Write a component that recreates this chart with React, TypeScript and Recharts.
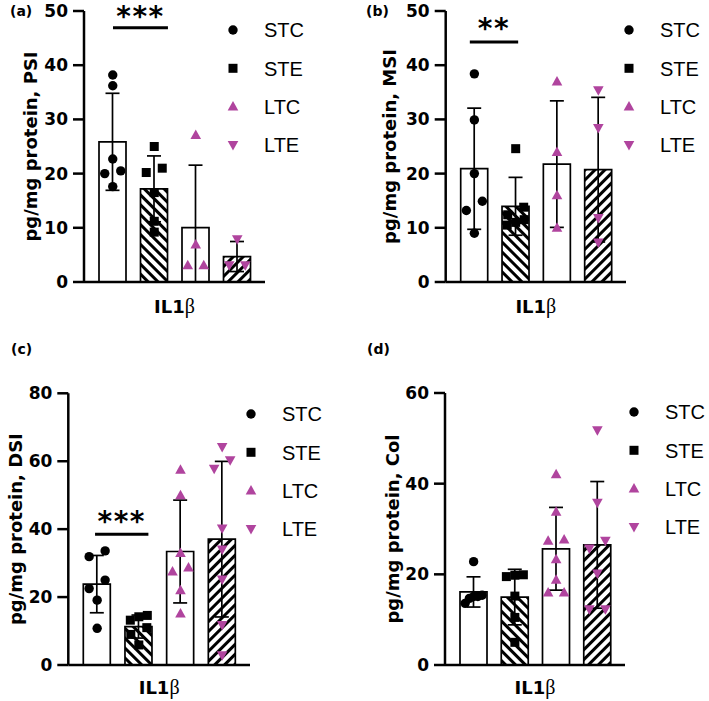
import React from "react";
import {
  ComposedChart, Bar, Cell, ErrorBar, Scatter, XAxis, YAxis, ReferenceLine, Legend,
} from "recharts";

const groups = ["STC", "STE", "LTC", "LTE"];

const ticksPsi = [0, 10, 20, 30, 40, 50];
const ticksMsi = [0, 10, 20, 30, 40, 50];
const ticksDsi = [0, 20, 40, 60, 80];
const ticksCol = [0, 20, 40, 60];

// (a) PSI
const psiSTC = [38.2, 36.2, 22.7, 20.5, 20.0, 17.6];
const psiSTE = [25.0, 21.0, 20.2, 16.5, 11.2, 9.2];
const psiLTC = [27.1, 6.9, 3.1, 3.1];
const psiLTE = [7.9, 3.1, 3.1];

// (b) MSI
const msiSTC = [38.4, 29.9, 20.0, 14.9, 13.2, 9.0];
const msiSTE = [24.6, 13.8, 12.4, 11.5, 11.0, 10.5];
const msiLTC = [37.0, 24.0, 16.0, 10.0];
const msiLTE = [35.4, 28.4, 11.8, 7.3];

// (c) DSI
const dsiSTC = [33.6, 31.9, 25.0, 22.5, 19.1, 10.8];
const dsiSTE = [14.6, 14.2, 13.2, 11.0, 9.0, 5.9];
const dsiLTC = [57.5, 50.0, 33.0, 28.7, 27.5, 22.0, 15.2];
const dsiLTE = [64.2, 60.3, 57.8, 40.2, 34.0, 25.2, 11.8, 2.9];

// (d) Col
const colSTC = [22.8, 15.4, 15.1, 15.1, 14.7, 13.6];
const colSTE = [19.9, 19.8, 19.5, 15.2, 10.5, 5.0];
const colLTC = [42.1, 33.8, 27.7, 27.4, 23.3, 18.8, 16.0, 16.0];
const colLTE = [51.8, 35.8, 27.4, 25.7, 20.2, 12.3, 12.3];

// significance brackets (group positions on the x scale, y value, stars)
const sigA = { from: 0.506, to: 1.83, y: 46.9, stars: "***" };
const sigB = { from: 0.39, to: 1.56, y: 44.3, stars: "**" };
const sigC = { from: 0.45, to: 1.73, y: 38.5, stars: "***" };

const INK = "#000";
const MAGENTA = "#B0449E";
const BOLD = "'DejaVu Sans', sans-serif";
const PLAIN = "'Liberation Sans', Arial, sans-serif";
const PAD_L = 8;
const PAD_R = 7;

const mean = (v: number[]) => v.reduce((s, x) => s + x, 0) / v.length;
const sd = (v: number[]) => {
  const m = mean(v);
  return Math.sqrt(v.reduce((s, x) => s + (x - m) ** 2, 0) / (v.length - 1));
};

// spread points that would overlap side by side (like Prism does)
function spread(values: number[], pxPerUnit: number) {
  const idx = values.map((_, i) => i).sort((a, b) => values[a] - values[b]);
  const off = values.map(() => 0);
  let i = 0;
  while (i < idx.length) {
    let j = i + 1;
    while (j < idx.length && (values[idx[j]] - values[idx[i]]) * pxPerUnit < 9.5) j++;
    const n = j - i;
    if (n > 1) {
      const step = Math.min(16, 17 / (n - 1));
      for (let k = 0; k < n; k++) off[idx[i + k]] = (k - (n - 1) / 2) * step;
    }
    i = j;
  }
  return off;
}

function marker(i: number, cx: number, cy: number) {
  if (i === 0) return <circle cx={cx} cy={cy} r={4.7} fill={INK} />;
  if (i === 1) return <rect x={cx - 4.5} y={cy - 4.5} width={9} height={9} fill={INK} />;
  if (i === 2)
    return <polygon points={`${cx},${cy - 5.5} ${cx - 5.3},${cy + 4} ${cx + 5.3},${cy + 4}`} fill={MAGENTA} />;
  return <polygon points={`${cx - 5.3},${cy - 4} ${cx + 5.3},${cy - 4} ${cx},${cy + 5.5}`} fill={MAGENTA} />;
}

function LegendBox() {
  return (
    <svg width={95} height={150}>
      {groups.map((g, i) => (
        <g key={g} transform={`translate(10, ${15 + i * 38.3})`}>
          {marker(i, 0, 0)}
          <text x={31} y={0} dy="0.36em" fontFamily={PLAIN} fontSize={20} fill={INK}>{g}</text>
        </g>
      ))}
    </svg>
  );
}

type Sig = { from: number; to: number; y: number; stars: string };

type PanelProps = {
  id: string;
  letter: string;
  ylabel: string;
  left: number;
  top: number;
  width: number;
  height: number;
  axisX: number;
  plotTop: number;
  plotBottom: number;
  plotRight: number;
  yMax: number;
  ticks: number[];
  series: number[][];
  sig?: Sig;
  starLift?: number;
  legendX: number;
  legendY: number;
  yLabelDx: number;
  xLabelDy: number;
  letterX: number;
  letterY: number;
};

function Panel(p: PanelProps) {
  const bandPx = (p.plotRight - p.axisX - PAD_L - PAD_R) / 4;
  const pxPerUnit = (p.plotBottom - p.plotTop) / p.yMax;
  const bars = groups.map((g, i) => {
    const m = mean(p.series[i]);
    const s = sd(p.series[i]);
    return { group: g, y: m, err: [Math.min(s, m), s] };
  });
  const points = p.series.map((vals, i) => {
    const off = spread(vals, pxPerUnit);
    return vals.map((v, k) => ({ x: i + 0.5 + off[k] / bandPx, y: v }));
  });
  const fills = ["#fff", `url(#back-${p.id})`, "#fff", `url(#fwd-${p.id})`];

  const xLabel = () => (
    <text
      x={(p.axisX + p.plotRight) / 2}
      y={p.plotBottom + p.xLabelDy}
      textAnchor="middle"
      dominantBaseline="central"
      fill={INK}
    >
      <tspan fontFamily={BOLD} fontWeight={700} fontSize={18}>IL1</tspan>
      <tspan fontFamily="'Liberation Serif', serif" fontSize={20}>β</tspan>
    </text>
  );

  const yLabel = () => (
    <text
      transform={`translate(${p.axisX - p.yLabelDx}, ${(p.plotTop + p.plotBottom) / 2}) rotate(-90)`}
      textAnchor="middle"
      dominantBaseline="central"
      fontFamily={BOLD}
      fontWeight={700}
      fontSize={18}
      fill={INK}
    >
      {p.ylabel}
    </text>
  );

  const sigLabel = () =>
    p.sig ? (
      <text
        x={p.axisX + PAD_L + ((p.sig.from + p.sig.to) / 2) * bandPx}
        y={p.plotBottom - p.sig.y * pxPerUnit - (p.starLift ?? 2.5)}
        textAnchor="middle"
        fontFamily={BOLD}
        fontWeight={700}
        fontSize={28}
        letterSpacing={1.5}
        fill={INK}
      >
        {p.sig.stars}
      </text>
    ) : null;

  return (
    <div style={{ position: "absolute", left: p.left, top: p.top, width: p.width, height: p.height }}>
      <ComposedChart
        width={p.width}
        height={p.height}
        data={bars}
        margin={{ top: p.plotTop, right: p.width - p.plotRight, bottom: 0, left: 0 }}
      >
        <defs>
          <pattern id={`back-${p.id}`} patternUnits="userSpaceOnUse" width={7} height={7} patternTransform="rotate(-45)">
            <rect width={7} height={7} fill="#fff" />
            <line x1={3.5} y1={-1} x2={3.5} y2={8} stroke={INK} strokeWidth={3} />
          </pattern>
          <pattern id={`fwd-${p.id}`} patternUnits="userSpaceOnUse" width={7} height={7} patternTransform="rotate(45)">
            <rect width={7} height={7} fill="#fff" />
            <line x1={3.5} y1={-1} x2={3.5} y2={8} stroke={INK} strokeWidth={3} />
          </pattern>
        </defs>
        <XAxis
          xAxisId="cat"
          dataKey="group"
          tick={false}
          tickLine={false}
          axisLine={{ stroke: INK, strokeWidth: 2.5 }}
          height={p.height - p.plotBottom}
          padding={{ left: PAD_L, right: PAD_R }}
          label={xLabel}
        />
        <XAxis
          xAxisId="pts"
          type="number"
          dataKey="x"
          domain={[0, 4]}
          allowDataOverflow
          hide
          padding={{ left: PAD_L, right: PAD_R }}
        />
        <YAxis
          dataKey="y"
          type="number"
          domain={[0, p.yMax]}
          ticks={p.ticks}
          interval={0}
          allowDataOverflow
          width={p.axisX}
          axisLine={{ stroke: INK, strokeWidth: 2.5 }}
          tickLine={{ stroke: INK, strokeWidth: 2.5 }}
          tickSize={11}
          tickMargin={5}
          tick={{ fill: INK, fontSize: 17, fontWeight: 700, fontFamily: BOLD }}
          label={yLabel}
        />
        <Bar xAxisId="cat" dataKey="y" barSize={27} stroke={INK} strokeWidth={1.7} isAnimationActive={false}>
          {bars.map((b, i) => (
            <Cell key={b.group} fill={fills[i]} />
          ))}
          <ErrorBar dataKey="err" direction="y" width={7} stroke={INK} strokeWidth={1.7} />
        </Bar>
        {points.map((pts, i) => (
          <Scatter
            key={groups[i]}
            name={groups[i]}
            xAxisId="pts"
            data={pts}
            isAnimationActive={false}
            shape={(sp: any) => marker(i, sp.cx, sp.cy)}
          />
        ))}
        {p.sig && (
          <ReferenceLine
            xAxisId="pts"
            segment={[{ x: p.sig.from, y: p.sig.y }, { x: p.sig.to, y: p.sig.y }]}
            stroke={INK}
            strokeWidth={3}
            label={sigLabel}
          />
        )}
        <Legend
          layout="vertical"
          align="center"
          verticalAlign="middle"
          wrapperStyle={{ left: p.legendX - 10, top: p.legendY - 15, width: 95, height: 150 }}
          content={() => <LegendBox />}
        />
      </ComposedChart>
      <div
        style={{
          position: "absolute",
          left: p.letterX,
          top: p.letterY,
          fontFamily: BOLD,
          fontWeight: 700,
          fontSize: 14,
          lineHeight: "16px",
          color: INK,
        }}
      >
        {p.letter}
      </div>
    </div>
  );
}

export default function App() {
  return (
    <div style={{ position: "absolute", left: 0, top: 0, width: 709, height: 701, background: "#fff" }}>
      <Panel
        id="a" letter="(a)" ylabel="pg/mg protein, PSI"
        left={0} top={0} width={354} height={340}
        axisX={84} plotTop={11} plotBottom={282} plotRight={265}
        yMax={50} ticks={ticksPsi}
        series={[psiSTC, psiSTE, psiLTC, psiLTE]}
        sig={sigA} starLift={1.5}
        legendX={233} legendY={30}
        yLabelDx={54} xLabelDy={23.5}
        letterX={10} letterY={3}
      />
      <Panel
        id="b" letter="(b)" ylabel="pg/mg protein, MSI"
        left={354} top={0} width={355} height={340}
        axisX={91.7} plotTop={11} plotBottom={282} plotRight={272}
        yMax={50} ticks={ticksMsi}
        series={[msiSTC, msiSTE, msiLTC, msiLTE]}
        sig={sigB} starLift={4}
        legendX={275} legendY={30}
        yLabelDx={56} xLabelDy={23.5}
        letterX={12} letterY={3}
      />
      <Panel
        id="c" letter="(c)" ylabel="pg/mg protein, DSI"
        left={0} top={340} width={354} height={361}
        axisX={68.3} plotTop={53.3} plotBottom={325} plotRight={250}
        yMax={80} ticks={ticksDsi}
        series={[dsiSTC, dsiSTE, dsiLTC, dsiLTE]}
        sig={sigC} starLift={3}
        legendX={250.7} legendY={74}
        yLabelDx={52.5} xLabelDy={21.5}
        letterX={11} letterY={1}
      />
      <Panel
        id="d" letter="(d)" ylabel="pg/mg protein, Col"
        left={354} top={340} width={355} height={361}
        axisX={91} plotTop={53} plotBottom={325} plotRight={271}
        yMax={60} ticks={ticksCol}
        series={[colSTC, colSTE, colLTC, colLTE]}
        legendX={280} legendY={72}
        yLabelDx={52.5} xLabelDy={21.5}
        letterX={13} letterY={1}
      />
    </div>
  );
}
